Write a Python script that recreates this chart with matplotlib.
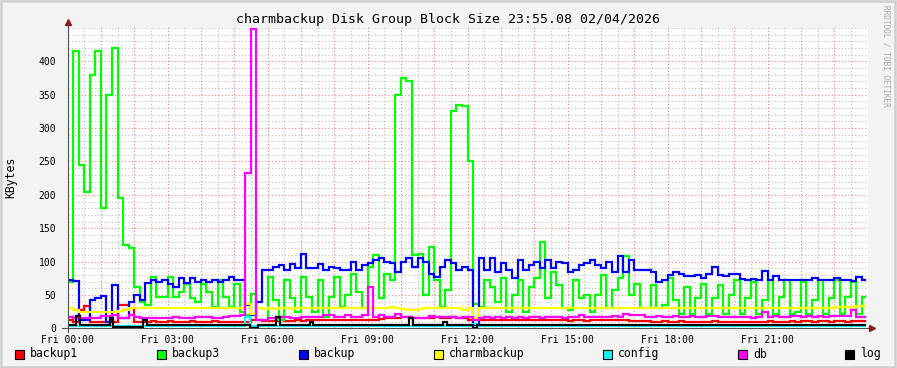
import numpy as np
import matplotlib.pyplot as plt
from matplotlib.patches import Rectangle

plt.rcParams['font.family'] = ['DejaVu Sans Mono']

# 10-minute samples, Fri 00:00 .. 23:50 (KBytes)
backup1 = [13, 10, 28, 33, 10, 10, 10, 10, 10, 35, 35, 30,
           10, 10, 10, 11, 10, 10, 11, 10, 10, 10, 11, 10,
           10, 10, 11, 10, 10, 10, 10, 10, 10, 12, 12, 11,
           11, 11, 12, 11, 11, 12, 11, 12, 12, 12, 12, 12,
           12, 12, 12, 13, 12, 12, 13, 13, 14, 15, 15, 16,
           17, 17, 16, 15, 16, 16, 17, 16, 16, 17, 16, 15,
           12, 12, 13, 12, 12, 13, 12, 12, 13, 12, 13, 12,
           12, 13, 12, 12, 13, 12, 11, 12, 12, 11, 12, 12,
           12, 12, 12, 12, 12, 11, 11, 11, 11, 10, 10, 11,
           10, 10, 11, 10, 10, 10, 10, 10, 11, 10, 10, 10,
           10, 10, 10, 10, 10, 10, 11, 10, 10, 10, 11, 10,
           11, 11, 10, 11, 11, 10, 11, 11, 10, 11, 11, 11]

backup3 = [70, 415, 245, 205, 380, 415, 180, 350, 420, 195, 125, 120,
           62, 40, 35, 77, 47, 47, 77, 47, 55, 67, 45, 40,
           67, 55, 32, 72, 47, 32, 67, 25, 20, 52, 12, 12,
           77, 42, 12, 72, 45, 25, 77, 47, 25, 72, 17, 47,
           77, 32, 50, 82, 55, 30, 92, 110, 45, 82, 72, 350,
           375, 370, 110, 112, 50, 122, 72, 32, 57, 325, 335, 333,
           250, 37, 32, 73, 62, 40, 75, 25, 50, 72, 25, 62,
           75, 130, 45, 85, 65, 30, 27, 72, 45, 50, 25, 50,
           80, 30, 57, 75, 108, 50, 67, 30, 30, 65, 30, 35,
           75, 42, 22, 62, 22, 45, 67, 22, 45, 65, 22, 50,
           72, 22, 45, 70, 22, 42, 72, 22, 47, 72, 22, 25,
           70, 22, 42, 72, 22, 45, 72, 22, 47, 70, 22, 47]

backup = [72, 71, 12, 12, 42, 45, 48, 10, 65, 15, 15, 40,
          50, 42, 68, 73, 70, 72, 67, 62, 75, 68, 75, 70,
          72, 70, 72, 70, 72, 77, 72, 72, 35, 20, 40, 87,
          88, 92, 95, 87, 97, 90, 112, 91, 90, 97, 87, 92,
          90, 87, 88, 100, 88, 95, 98, 102, 105, 100, 98, 85,
          100, 105, 92, 105, 100, 82, 77, 92, 103, 98, 87, 92,
          88, 5, 105, 88, 105, 85, 98, 88, 75, 102, 87, 95,
          100, 90, 102, 90, 100, 98, 85, 88, 95, 98, 102, 95,
          90, 100, 85, 108, 85, 102, 87, 87, 87, 85, 70, 72,
          80, 85, 82, 78, 78, 80, 75, 82, 92, 80, 78, 82,
          82, 74, 72, 74, 72, 86, 73, 78, 72, 73, 73, 72,
          73, 72, 76, 72, 72, 73, 75, 72, 73, 71, 77, 72]

charmbackup = [31, 27, 25, 25, 25, 25, 24, 24, 24, 26, 27, 30,
               31, 31, 30, 31, 31, 31, 31, 31, 30, 31, 31, 31,
               31, 31, 30, 31, 31, 31, 30, 30, 37, 22, 30, 29,
               30, 29, 30, 30, 29, 30, 30, 31, 30, 30, 31, 31,
               31, 31, 31, 30, 31, 30, 31, 31, 31, 31, 32, 31,
               29, 28, 27, 29, 30, 30, 31, 30, 30, 30, 30, 28,
               30, 15, 30, 31, 30, 30, 30, 30, 31, 31, 30, 30,
               30, 31, 30, 30, 30, 30, 31, 31, 31, 30, 30, 30,
               31, 31, 31, 31, 31, 30, 30, 31, 31, 30, 31, 30,
               31, 30, 30, 31, 30, 30, 31, 31, 30, 31, 31, 31,
               31, 31, 31, 30, 30, 31, 31, 30, 31, 31, 31, 31,
               31, 31, 30, 31, 31, 31, 32, 32, 32, 32, 33, 33]

db = [17, 16, 16, 16, 16, 16, 18, 18, 20, 15, 15, 20,
      17, 16, 15, 15, 15, 16, 16, 17, 16, 16, 16, 17,
      17, 17, 16, 16, 17, 18, 18, 20, 232, 449, 13, 12,
      15, 15, 17, 17, 15, 15, 17, 17, 17, 17, 20, 20,
      17, 17, 20, 17, 17, 20, 62, 17, 20, 17, 17, 22,
      17, 17, 15, 15, 16, 18, 17, 17, 17, 17, 16, 17,
      17, 12, 16, 17, 16, 17, 16, 17, 16, 17, 16, 17,
      17, 16, 17, 17, 17, 16, 17, 17, 20, 17, 17, 17,
      17, 17, 18, 17, 22, 20, 20, 20, 17, 17, 18, 17,
      17, 18, 17, 17, 18, 17, 17, 18, 18, 17, 17, 17,
      17, 17, 17, 15, 17, 25, 17, 18, 17, 17, 18, 18,
      17, 18, 17, 18, 17, 18, 18, 18, 18, 27, 17, 17]

# config and log are flat most of the day: change points (hour, value)
config_t = [0, 5.33, 5.46, 12.17, 12.28]
config_v = [3, 17, 3, 7, 3]
log_t = [0, 0.26, 0.36, 1.28, 1.37, 2.25, 2.38, 5.46, 5.7, 6.25, 6.36,
         7.27, 7.37, 10.25, 10.35, 11.27, 11.37, 12.17, 12.28]
log_v = [5.5, 18, 5.5, 15, 1.5, 12, 5.5, 0.5, 5.5, 17, 5.5,
         9, 5.5, 16, 5.5, 9, 5.5, 0.5, 5.5]
end_hour = 23.92

names = ['backup1', 'backup3', 'backup', 'charmbackup', 'config', 'db', 'log']
colors = ['#FF0000', '#00FF00', '#0000FF', '#FFFF00', '#00FFFF', '#FF00FF', '#000000']
hours = np.arange(len(backup1)) / 6.0
data = {'backup1': (hours, backup1), 'backup3': (hours, backup3),
        'backup': (hours, backup), 'charmbackup': (hours, charmbackup),
        'config': (config_t, config_v), 'db': (hours, db), 'log': (log_t, log_v)}

fig = plt.figure(figsize=(8.97, 3.68), dpi=100)
fig.patch.set_facecolor('#F3F3F3')
ax = fig.add_axes([67.5 / 897, 1 - 328.3 / 368, 800 / 897, 301.6 / 368])
ax.set_facecolor('white')

for name, c in zip(names, colors):
    t, v = data[name]
    t = np.append(np.asarray(t, float), end_hour)
    v = np.append(np.asarray(v, float), v[-1])
    ax.plot(t, v, drawstyle='steps-post', color=c, lw=1.6, solid_joinstyle='miter', zorder=3)

ax.set_xlim(0, 24)
ax.set_ylim(0, 452)
ax.set_xticks(np.arange(0, 24, 1))
ax.set_xticklabels(['Fri %02d:00' % h if h % 3 == 0 else '' for h in range(24)])
ax.set_xticks(np.arange(0.5, 24, 1), minor=True)
ax.set_yticks(np.arange(0, 401, 50))
ax.set_yticks(np.arange(10, 451, 10), minor=True)
ax.grid(which='major', color='#E05050', alpha=0.7, linestyle=(0, (1, 2)), lw=0.8)
ax.grid(which='minor', color='#8F8F8F', alpha=0.6, linestyle=(0, (1, 2)), lw=0.8)
ax.set_axisbelow(True)
ax.tick_params(which='both', length=0, labelsize=7)
ax.tick_params(axis='x', pad=5)
ax.tick_params(axis='y', pad=8)
for s in ax.spines.values():
    s.set_visible(False)

# axis lines with arrows
ax.plot([0, 0], [-0.012, 1.005], transform=ax.transAxes, color='#505050', lw=0.8, clip_on=False, zorder=4)
ax.plot([-0.007, 1.004], [0, 0], transform=ax.transAxes, color='#505050', lw=0.8, clip_on=False, zorder=4)
ax.plot([0], [1.015], transform=ax.transAxes, marker='^', ms=4.5, color='#8B1A1A', clip_on=False, zorder=5)
ax.plot([1.006], [0], transform=ax.transAxes, marker='>', ms=4.5, color='#8B1A1A', clip_on=False, zorder=5)

fig.text(448 / 897, 1 - 19 / 368, 'charmbackup Disk Group Block Size 23:55.08 02/04/2026',
         ha='center', va='center', fontsize=9.5)
fig.text(10.5 / 897, 1 - 177 / 368, 'KBytes', rotation=90, ha='center', va='center', fontsize=8.3)
fig.text(886 / 897, 1 - 5 / 368, 'RRDTOOL / TOBI OETIKER', rotation=270, ha='center', va='top',
         fontsize=5.6, color='#A8A8A8')

# legend
legend_x = [15, 157, 299, 434, 603, 738, 845]
for lx, name, c in zip(legend_x, names, colors):
    fig.patches.append(Rectangle((lx / 897, 1 - 358.5 / 368), 8.5 / 897, 8.5 / 368,
                                 transform=fig.transFigure, facecolor=c, edgecolor='black', lw=0.8))
    fig.text((lx + 15) / 897, 1 - 354 / 368, name, ha='left', va='center', fontsize=8.3)

# frame
fig.patches.append(Rectangle((0.001, 0.002), 0.997, 0.995, transform=fig.transFigure,
                             fill=False, edgecolor='#CFCFCF', lw=1.8))

fig.savefig('out.png', dpi=100, facecolor=fig.get_facecolor())
